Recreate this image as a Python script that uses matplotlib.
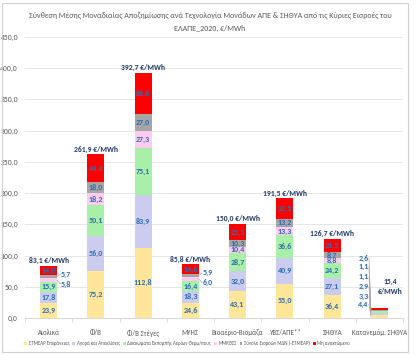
import matplotlib
matplotlib.use("Agg")
import matplotlib.pyplot as plt
import numpy as np
from matplotlib.patches import Rectangle
import logging
logging.getLogger('matplotlib.font_manager').setLevel(logging.ERROR)

plt.rcParams['font.family'] = ['Carlito', 'Lato', 'DejaVu Sans']

categories = ["Αιολικά", "Φ/Β", "Φ/Β Στέγες", "ΜΥΗΣ", "Βιοαέριο-Βιομάζα",
              "ΥΒΣ/ΑΠΕ**", "ΣΗΘΥΑ", "Κατανεμόμ. ΣΗΘΥΑ"]
series_names = ["ΕΤΜΕΑΡ Επιφάνειας", "Αγορά και Αποκλίσεις",
                "Δικαιώματα Εκπομπής Αερίων Θερμ/πους", "ΜΜΚΘΣΣ",
                "Σύνολο Εισροών ΜΔΝ (-ΕΤΜΕΑΡ)", "Μη ανακτώμενο"]
etmear = [23.9, 75.2, 112.8, 24.6, 43.1, 55.0, 36.4, 4.4]
agora = [17.8, 56.0, 83.9, 18.3, 32.0, 40.9, 27.1, 3.3]
dikaiomata = [15.9, 50.1, 75.1, 16.4, 28.7, 36.6, 24.2, 2.9]
mmkthss = [5.8, 18.2, 27.3, 6.0, 10.4, 13.3, 8.8, 1.1]
mdn = [5.7, 18.0, 27.0, 5.9, 10.3, 13.2, 8.7, 1.1]
mi_anakt = [14.0, 44.4, 66.6, 14.6, 25.5, 32.5, 21.5, 2.6]
totals = [83.1, 261.9, 392.7, 85.8, 150.0, 191.5, 126.7, 15.4]
yticks = [0, 50, 100, 150, 200, 250, 300, 350, 400, 450]

colors = ["#FFE699", "#CCCCEE", "#A8F0A8", "#FFCCF0", "#A6A6A6", "#FF0000"]
data = [etmear, agora, dikaiomata, mmkthss, mdn, mi_anakt]

fig = plt.figure(figsize=(4.2, 3.55), dpi=100)
ax = fig.add_axes([25/420, 1-318/355, (403-25)/420, (318-37)/355])

x = np.arange(len(categories))
w = 0.36
bottom = np.zeros(len(categories))
lblc = "#2E6DB4"
vfs = 5.8
for vals, col, name in zip(data, colors, series_names):
    vals = np.array(vals)
    ax.bar(x, vals, w, bottom=bottom, color=col, label=name, zorder=2)
    for i, v in enumerate(vals):
        cy = bottom[i] + v / 2
        if i == 7:
            pass
        elif v < 8 and name in (series_names[3], series_names[4]):
            pass
        else:
            ax.text(x[i], cy, f"{v:.1f}".replace('.', ','), ha='center', va='center',
                    fontsize=vfs, fontweight='bold', color=lblc, zorder=3)
    bottom += vals

# outside labels for small segments
for i in (0, 3):
    b4 = etmear[i] + agora[i] + dikaiomata[i]
    mids = [b4 + mmkthss[i] / 2, b4 + mmkthss[i] + mdn[i] / 2]
    vals = [mmkthss[i], mdn[i]]
    ys = [mids[0] - 6, mids[1] + 4]
    for m, v, yy in zip(mids, vals, ys):
        ax.plot([x[i] + w / 2, x[i] + 0.25], [m, yy], color='#A6A6A6', lw=0.5, zorder=3)
        ax.text(x[i] + 0.26, yy, f"{v:.1f}".replace('.', ','), ha='left', va='center',
                fontsize=vfs, fontweight='bold', color=lblc)

# Katanem labels on the left
i = 7
cum = 0
label_ys = [22, 35, 50, 66, 82, 96]
for vals, yy in zip(data, label_ys):
    v = vals[i]
    m = cum + v / 2
    cum += v
    ax.plot([x[i] - 0.22, x[i] - w / 2], [yy, m], color='#A6A6A6', lw=0.5, zorder=3)
    ax.text(x[i] - 0.23, yy, f"{v:.1f}".replace('.', ','), ha='right', va='center',
            fontsize=vfs, fontweight='bold', color=lblc)

for i, t in enumerate(totals):
    s = f"{t:.1f}".replace('.', ',')
    if i == 7:
        ax.text(x[i] + 0.22, 50, s + "\n€/MWh", ha='center', va='center', fontsize=5.5,
                fontweight='bold', color='#1F3864', linespacing=1.5)
    else:
        ax.text(x[i], t + 3, s + " €/MWh", ha='center', va='bottom', fontsize=5.5,
                fontweight='bold', color='#1F3864')

ax.set_ylim(0, 450)
ax.set_xlim(-0.5, len(categories) - 0.5)
ax.set_yticks(yticks)
ax.set_yticklabels([f"{v:.1f}".replace('.', ',') for v in yticks], fontsize=5.5, color='#595959')
ax.set_xticks(x)
ax.set_xticklabels(categories, fontsize=5.0, color='#595959')
ax.set_xticks(np.arange(-0.5, len(categories), 1), minor=True)
ax.tick_params(axis='x', which='major', length=0, pad=8)
ax.tick_params(axis='x', which='minor', length=3, color='#D9D9D9')
ax.tick_params(axis='y', length=0, pad=5)
ax.grid(axis='y', color='#E6E6E6', lw=0.7, zorder=0)
for sp in ('top', 'right', 'left'):
    ax.spines[sp].set_visible(False)
ax.spines['bottom'].set_color('#D9D9D9')

fig.text(210/420, 1-15/355, "Σύνθεση Μέσης Μοναδιαίας Αποζημίωσης ανά Τεχνολογία Μονάδων ΑΠΕ & ΣΗΘΥΑ από τις Κύριες Εισροές του",
         ha='center', va='center', fontsize=5.8, color='#595959')
fig.text(210/420, 1-28/355, "ΕΛΑΠΕ_2020, €/MWh", ha='center', va='center', fontsize=5.8, color='#595959')

leg = fig.legend(loc='center', bbox_to_anchor=(187/420, 1-343/355), ncol=6, frameon=False,
                 fontsize=3.5, handlelength=0.6, handleheight=0.6, handletextpad=0.3,
                 columnspacing=0.6, labelcolor='#595959')

fig.patches.append(Rectangle((2/420, 3/355), 406/420, 349/355, transform=fig.transFigure,
                             fill=False, edgecolor='#D0D0D0', lw=0.8))
fig.savefig("out.png", dpi=100, facecolor='white')
